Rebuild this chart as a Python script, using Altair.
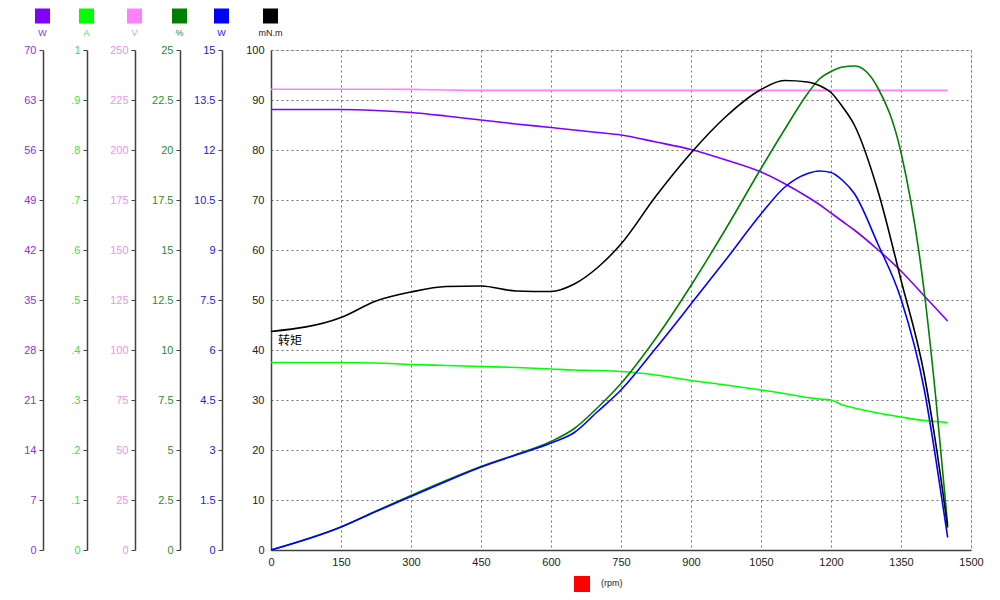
import altair as alt
import pandas as pd

# ---- data ----
rpm = [0, 150, 225, 300, 375, 450, 525, 600, 650, 700, 750, 825, 900, 975,
       1050, 1100, 1150, 1175, 1200, 1225, 1250, 1300, 1350, 1400, 1425, 1450]

torque_mNm = [43.7, 46.5, 49.8, 51.6, 52.7, 52.8, 51.8, 51.7, 53.2, 56.5, 61.2, 70.8,
              79.4, 86.7, 92.1, 93.9, 93.6, 92.9, 91.5, 88.6, 85.0, 72.0, 54.0, 35.0,
              21.0, 4.5]
input_power_W = [61.67, 61.67, 61.53, 61.25, 60.76, 60.2, 59.64, 59.15, 58.8, 58.45,
                 58.1, 57.12, 56.07, 54.6, 52.92, 51.31, 49.42, 48.37, 47.18, 45.99,
                 44.8, 42.07, 39.06, 35.56, 33.81, 32.06]
current_A = [0.375, 0.375, 0.374, 0.371, 0.369, 0.367, 0.365, 0.362, 0.360, 0.359,
             0.357, 0.350, 0.339, 0.330, 0.320, 0.313, 0.305, 0.302, 0.300, 0.290,
             0.284, 0.274, 0.266, 0.259, 0.257, 0.255]
voltage_V = [230.4, 230.4, 230.4, 230.3, 230.0, 229.8, 229.8, 229.8, 229.8, 229.8,
             229.8, 229.8, 229.8, 229.8, 229.8, 229.8, 229.8, 229.8, 229.8, 229.8,
             229.8, 229.8, 229.8, 229.8, 229.8, 229.8]
efficiency_pct = [0, 1.15, 1.95, 2.725, 3.475, 4.175, 4.775, 5.425, 6.075, 7.125,
                  8.325, 10.6, 13.225, 16.075, 19.075, 21.0, 22.825, 23.55, 23.925,
                  24.15, 24.2, 23.125, 19.875, 12.875, 7.5, 1.25]
output_power_W = [0, 0.69, 1.155, 1.605, 2.055, 2.49, 2.85, 3.21, 3.525, 4.155, 4.8,
                  6.06, 7.38, 8.715, 10.08, 10.875, 11.295, 11.37, 11.325, 11.085,
                  10.695, 9.195, 7.53, 4.8, 2.7, 0.375]

units = ["W", "A", "V", "%", "W", "mN.m"]
axis_max = [70, 1, 250, 25, 15, 100]
annotation = "转矩"
x_ticks = [0, 150, 300, 450, 600, 750, 900, 1050, 1200, 1350, 1500]

df = pd.DataFrame({
    "rpm": rpm,
    "pin": input_power_W,
    "amp": current_A,
    "volt": voltage_V,
    "eff": efficiency_pct,
    "pout": output_power_W,
    "torque": torque_mNm,
})

fields = ["pin", "amp", "volt", "eff", "pout", "torque"]
line_colors = ["#8000FF", "#00FF00", "#FF80FF", "#008000", "#0000FF", "#000000"]
label_colors = ["#9030E0", "#40E040", "#F090F0", "#2E8B2E", "#2020E0", "#222222"]
offsets = [228, 184, 136, 91, 49, 0]

FONT = "Liberation Sans"
W, H = 700, 500

x_axis = alt.Axis(values=x_ticks, title=None, grid=True, gridDash=[2, 3],
                  gridColor="#707070", gridOpacity=1, domainColor="#404040",
                  domainWidth=1.5, tickSize=0, labelPadding=6, labelFont=FONT,
                  labelFontSize=11, labelColor="#222222", labelFlush=False,
                  labelExpr="format(datum.value, 'd')")
xenc = alt.X("rpm:Q", scale=alt.Scale(domain=[0, 1500], nice=False), axis=x_axis)

layers = []
order = [2, 0, 1, 3, 4, 5]
for i in order:
    mx = axis_max[i]
    ticks = [round(mx * k / 10, 4) for k in range(11)]
    is_main = i == 5
    ax_kwargs = dict(
        orient="left", offset=offsets[i], values=ticks, title=None,
        labelColor=label_colors[i], labelFont=FONT, labelFontSize=11,
        domainColor="#404040", domainWidth=1.5, tickColor="#404040",
        tickSize=0 if is_main else 4, labelPadding=7 if is_main else 3,
        grid=is_main, labelFlush=False,
    )
    if is_main:
        ax_kwargs.update(gridDash=[2, 3], gridColor="#707070", gridOpacity=1)
    if i == 1:
        ax_kwargs["labelExpr"] = ("datum.value > 0 && datum.value < 1 ? "
                                  "replace(format(datum.value, '.1f'), '0.', '.') : "
                                  "format(datum.value, 'd')")
    else:
        ax_kwargs["labelExpr"] = "format(datum.value, '~g')"
    layers.append(
        alt.Chart(df).mark_line(color=line_colors[i], strokeWidth=1.6,
                                interpolate="monotone", clip=False).encode(
            x=xenc,
            y=alt.Y(f"{fields[i]}:Q", scale=alt.Scale(domain=[0, mx], nice=False, zero=True),
                    axis=alt.Axis(**ax_kwargs)),
        )
    )

# annotation on the torque curve
ann_df = pd.DataFrame({"rpm": [rpm[0]], "torque": [torque_mNm[0]], "txt": [annotation]})
ann = alt.Chart(ann_df).mark_text(align="left", baseline="middle", dx=7, dy=9,
                                  font="Noto Sans CJK SC", fontSize=12, color="#000000").encode(
    x=xenc,
    y=alt.Y("torque:Q", scale=alt.Scale(domain=[0, 100], nice=False), axis=None),
    text="txt:N",
)
layers.append(ann)

# legend squares and unit labels above each axis
deco = []
for i in range(6):
    xpos = -offsets[i] - 0.5
    deco.append(alt.Chart(df.head(1)).mark_square(size=225, color=line_colors[i], opacity=1).encode(
        x=alt.value(xpos), y=alt.value(-34)))
    deco.append(alt.Chart(df.head(1)).mark_text(text=units[i], fontSize=9, font=FONT,
                                                color=label_colors[i], baseline="middle").encode(
        x=alt.value(xpos), y=alt.value(-17)))
deco.append(alt.Chart(df.head(1)).mark_square(size=256, color="#FF0000", opacity=1).encode(
    x=alt.value(311), y=alt.value(534)))
deco.append(alt.Chart(df.head(1)).mark_text(text="(rpm)", fontSize=9, font=FONT,
                                            color="#222222", align="left", baseline="middle").encode(
    x=alt.value(330), y=alt.value(533)))

chart = alt.layer(*layers, *deco).resolve_scale(y="independent", x="shared").properties(
    width=W, height=H,
    autosize=alt.AutoSizeParams(type="none"),
    padding={"left": 271, "top": 50, "right": 29, "bottom": 50},
).configure_view(stroke=None).configure(background="white")

chart.save("out.html", embed_options={"renderer": "svg", "actions": False})
